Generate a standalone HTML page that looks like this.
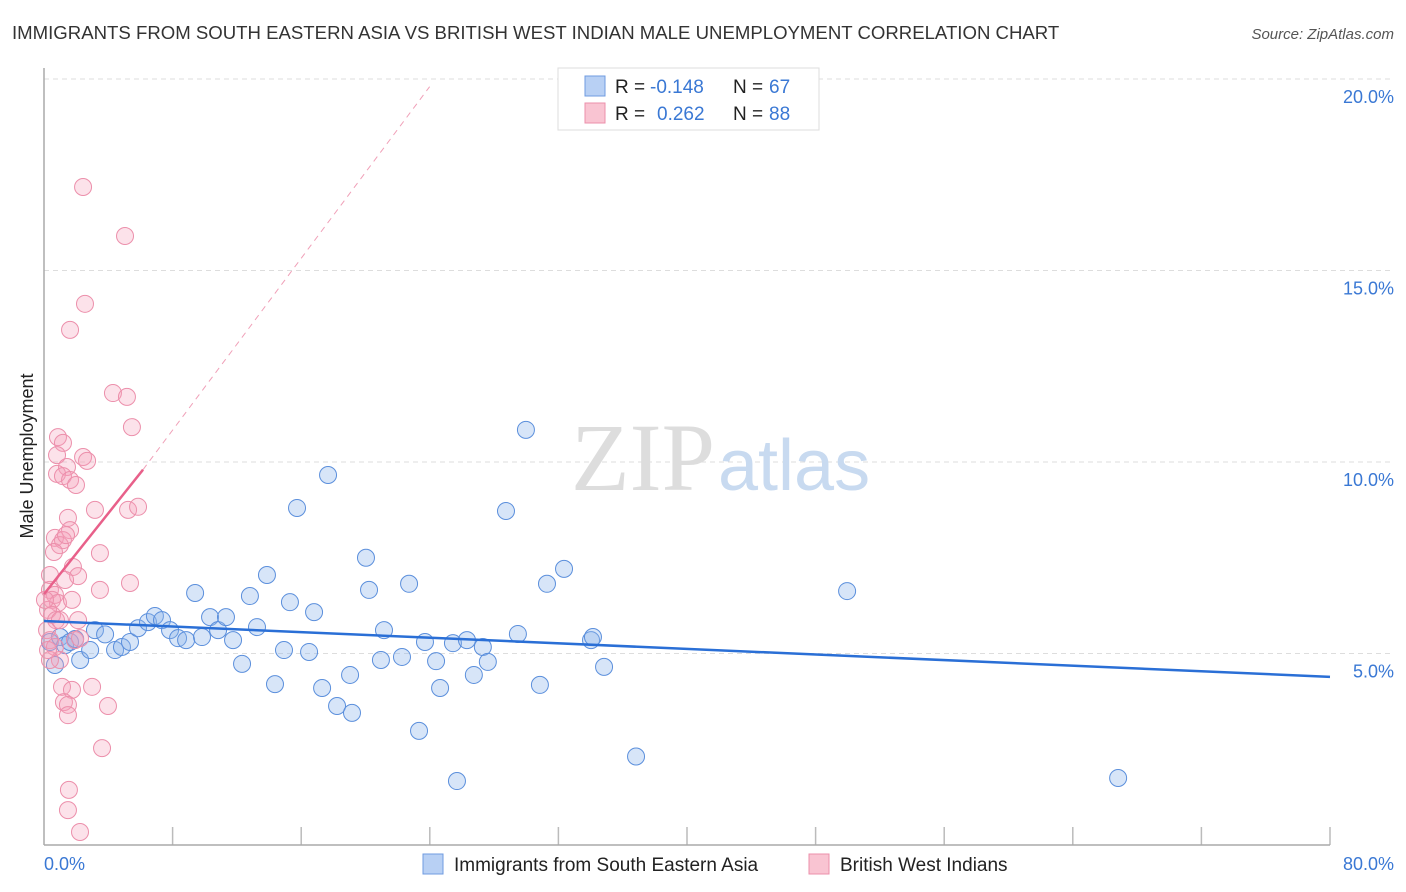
<!DOCTYPE html>
<html><head><meta charset="utf-8"><style>
body{margin:0;background:#fff;font-family:"Liberation Sans",sans-serif}
</style></head><body>
<svg width="1406" height="892" style="position:absolute;left:0;top:0">
<text x="12" y="39" font-size="18.6" fill="#333">IMMIGRANTS FROM SOUTH EASTERN ASIA VS BRITISH WEST INDIAN MALE UNEMPLOYMENT CORRELATION CHART</text>
<text x="1394" y="39" font-size="15" fill="#555" text-anchor="end" font-style="italic">Source: ZipAtlas.com</text>
<g id="grid"></g>
<text x="715" y="490" font-size="96" font-family="Liberation Serif,serif" fill="#ddd" text-anchor="end">ZIP</text>
<text x="718" y="490" font-size="72" fill="#c8daf0">atlas</text>
<line x1="44" y1="68" x2="44" y2="845" stroke="#aaa" stroke-width="1.5"/>
<line x1="44" y1="845" x2="1330" y2="845" stroke="#aaa" stroke-width="1.5"/>
<text x="33" y="456" font-size="18" fill="#222" text-anchor="middle" transform="rotate(-90 33 456)">Male Unemployment</text>
<g id="marks"></g>
<text x="44" y="870" font-size="18" fill="#3a78d4">0.0%</text>
<text x="1394" y="870" font-size="18" fill="#3a78d4" text-anchor="end">80.0%</text>
<g>
<rect x="558" y="68" width="261" height="62" fill="#fff" stroke="#ddd"/>
<rect x="585" y="76" width="20" height="20" fill="#b8d0f4" stroke="#6f9be0"/>
<rect x="585" y="103" width="20" height="20" fill="#f9c4d2" stroke="#ec8fab"/>
<text x="615" y="93" font-size="19" fill="#222">R =</text>
<text x="650" y="93" font-size="19" fill="#3a78d4">-0.148</text>
<text x="733" y="93" font-size="19" fill="#222">N =</text>
<text x="769" y="93" font-size="19" fill="#3a78d4">67</text>
<text x="615" y="120" font-size="19" fill="#222">R =</text>
<text x="657" y="120" font-size="19" fill="#3a78d4">0.262</text>
<text x="733" y="120" font-size="19" fill="#222">N =</text>
<text x="769" y="120" font-size="19" fill="#3a78d4">88</text>
</g>
<g>
<rect x="423" y="854" width="20" height="20" fill="#b8d0f4" stroke="#6f9be0"/>
<text x="454" y="871" font-size="19" fill="#222">Immigrants from South Eastern Asia</text>
<rect x="809" y="854" width="20" height="20" fill="#f9c4d2" stroke="#ec8fab"/>
<text x="840" y="871" font-size="19" fill="#222">British West Indians</text>
</g>
</svg>
<script>
const yTicks=[5,10,15,20];
const xTicks=[8,16,24,32,40,48,56,64,72,80];
const blueX=[0.37,0.68,1,1.31,1.62,1.94,2.25,2.87,3.17,3.8,4.42,4.85,5.35,5.85,6.47,6.9,7.34,7.84,8.34,8.84,9.4,9.83,10.33,10.83,11.32,11.76,12.32,12.81,13.25,13.87,14.37,14.93,15.3,15.74,16.49,16.8,17.3,17.67,18.23,19.04,19.16,20.03,20.22,20.96,21.15,22.27,22.71,23.33,23.7,24.39,24.64,25.44,25.69,26.31,26.74,27.3,27.61,28.74,29.48,29.98,30.85,31.29,32.35,34.03,34.15,34.84,36.83,49.96,66.82];
const blueY=[5.3,4.7,5.43,5.22,5.3,5.38,4.83,5.09,5.61,5.5,5.09,5.17,5.3,5.66,5.82,5.98,5.87,5.61,5.4,5.35,6.58,5.43,5.95,5.61,5.95,5.35,4.73,6.5,5.69,7.05,4.2,5.09,6.34,8.8,5.04,6.08,4.1,9.66,3.63,4.44,3.45,7.5,6.66,4.83,5.61,4.91,6.82,2.98,5.3,4.8,4.1,5.27,1.67,5.35,4.44,5.17,4.78,8.72,5.51,10.84,4.18,6.82,7.21,5.35,5.43,4.65,2.31,6.63,1.75];
const pinkX=[2.43,5.04,2.55,1.62,4.29,5.16,5.47,0.87,1.18,0.81,2.43,2.68,1.43,0.81,1.18,1.62,1.99,3.17,5.23,5.85,1.49,1.62,0.68,1.18,0.99,1.37,0.62,3.48,1.8,2.12,1.31,5.35,0.37,0.68,0.5,0.87,1.74,3.48,0.25,0.5,0.75,2.12,0.19,0.37,1.93,2.24,0.68,0.99,1.12,1.74,2.99,1.24,1.49,1.49,3.98,3.61,1.55,1.49,2.24,0.37,0.99,0.06,0.37,0.25];
const pinkY=[17.18,15.9,14.13,13.45,11.8,11.7,10.91,10.65,10.5,10.18,10.13,10.03,9.87,9.69,9.63,9.53,9.4,8.75,8.75,8.83,8.54,8.22,8.02,7.96,7.83,8.09,7.65,7.62,7.26,7.02,6.92,6.84,6.66,6.53,6.4,6.32,6.4,6.66,6.14,6.01,5.87,5.87,5.61,5.35,5.35,5.4,5.17,4.83,4.13,4.05,4.13,3.73,3.66,3.39,3.63,2.53,1.44,0.91,0.34,4.83,5.87,6.4,7.05,5.09];
const blueTrend=[[0,5.85],[80,4.39]];
const pinkTrend=[[0,6.55],[6.16,9.8]];
const pinkDash=[[6.16,9.8],[23.99,19.8]];
const xs=v=>44+v/80*1286, ys=v=>845-v*38.3;
const NS="http://www.w3.org/2000/svg";
const grid=document.getElementById('grid'), marks=document.getElementById('marks');
const svg=document.querySelector('svg');
function mk(t,a,p){const e=document.createElementNS(NS,t);for(const k in a)e.setAttribute(k,a[k]);p.appendChild(e);return e;}
yTicks.forEach(v=>{
  const l=mk('line',{x1:44,x2:1394,y1:ys(v),y2:ys(v),stroke:'#ddd','stroke-dasharray':'5,4'},grid);
  
  
  const t=mk('text',{x:1394,y:ys(v)+24,'font-size':18,fill:'#3a78d4','text-anchor':'end'},svg);
  t.textContent=v.toFixed(1)+'%';
  
  
});
xTicks.forEach(v=>{
  const l=mk('line',{x1:xs(v),x2:xs(v),y1:827,y2:845,stroke:'#bbb','stroke-width':1.5},grid);
  
  
});
blueX.forEach((x,i)=>{
  const c=mk('circle',{cx:xs(x),cy:ys(blueY[i]),r:8.5,fill:'rgba(140,180,235,0.35)',stroke:'#5b8fdc','stroke-width':1},marks);
  
  
});
pinkX.forEach((x,i)=>{
  const c=mk('circle',{cx:xs(x),cy:ys(pinkY[i]),r:8.5,fill:'rgba(245,160,185,0.3)',stroke:'#ec8fab','stroke-width':1},marks);
  
  
});
const bl=mk('line',{x1:xs(blueTrend[0][0]),y1:ys(blueTrend[0][1]),x2:xs(blueTrend[1][0]),y2:ys(blueTrend[1][1]),stroke:'#2a6fd6','stroke-width':2.5},marks);


const pl=mk('line',{x1:xs(pinkTrend[0][0]),y1:ys(pinkTrend[0][1]),x2:xs(pinkTrend[1][0]),y2:ys(pinkTrend[1][1]),stroke:'#e8608a','stroke-width':2.5},marks);


const pd=mk('line',{x1:xs(pinkDash[0][0]),y1:ys(pinkDash[0][1]),x2:xs(pinkDash[1][0]),y2:ys(pinkDash[1][1]),stroke:'#f0a0b8','stroke-width':1,'stroke-dasharray':'6,5'},marks);


</script>
</body></html>
